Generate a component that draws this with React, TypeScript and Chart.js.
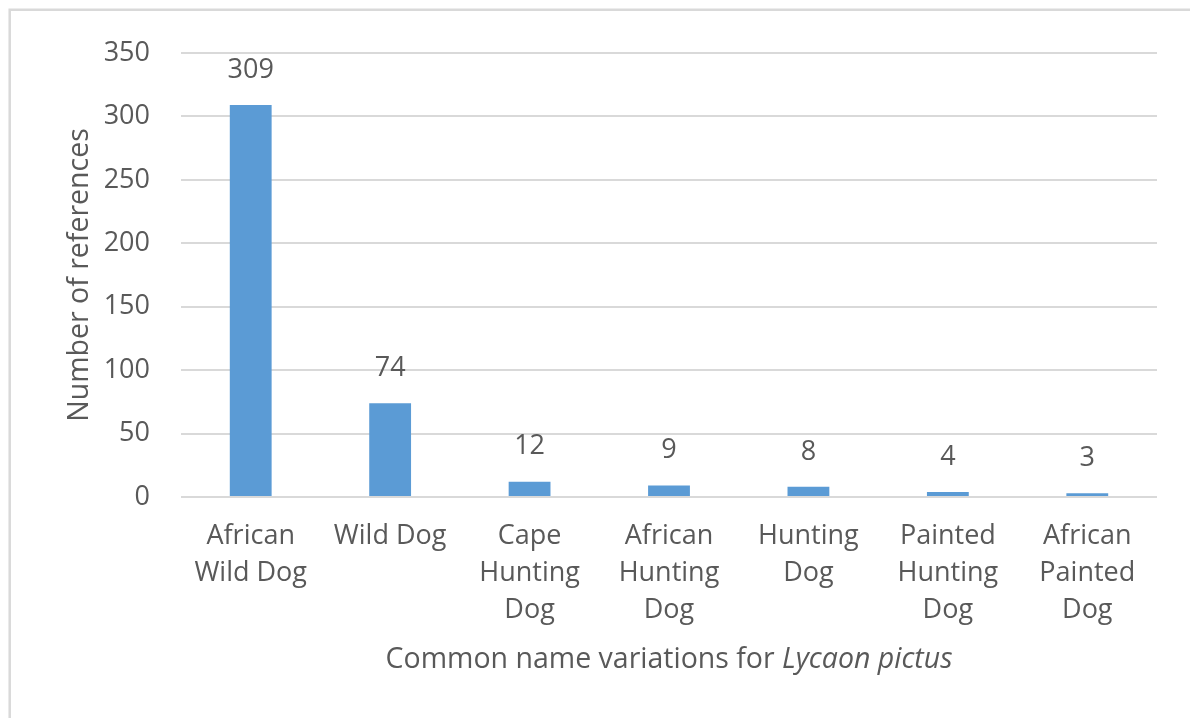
import React, { useEffect, useRef } from "react";
import { Chart, registerables } from "chart.js";

Chart.register(...registerables);

const categories: string[][] = [
  ["African", "Wild Dog"],
  ["Wild Dog"],
  ["Cape", "Hunting", "Dog"],
  ["African", "Hunting", "Dog"],
  ["Hunting", "Dog"],
  ["Painted", "Hunting", "Dog"],
  ["African", "Painted", "Dog"],
];
const referenceCounts: number[] = [309, 74, 12, 9, 8, 4, 3];
const yTicks = { min: 0, max: 350, step: 50 };
const yTitle = "Number of references";
const xTitleNormal = "Common name variations for ";
const xTitleItalic = "Lycaon pictus";

const FONT = "'Open Sans', 'Noto Sans', sans-serif";
const TEXT = "#595959";
const GRID = "#d9d9d9";
const BAR = "#5b9bd5";
const FS = 27;
const TFS = 28.5;

export default function App() {
  const ref = useRef<HTMLCanvasElement | null>(null);
  useEffect(() => {
    document.body.style.margin = "0";
    const canvas = ref.current;
    if (!canvas) return;

    const framePlugin = {
      id: "frame",
      beforeDraw(chart: any) {
        const ctx = chart.ctx;
        ctx.save();
        ctx.fillStyle = "#ffffff";
        ctx.fillRect(0, 0, chart.width, chart.height);
        ctx.strokeStyle = GRID;
        ctx.lineWidth = 2.5;
        ctx.beginPath();
        ctx.moveTo(chart.width + 5, 9.7);
        ctx.lineTo(9.7, 9.7);
        ctx.lineTo(9.7, chart.height + 5);
        ctx.stroke();
        ctx.restore();
      },
    };

    const labelPlugin = {
      id: "valueLabels",
      afterDatasetsDraw(chart: any) {
        const ctx = chart.ctx;
        const meta = chart.getDatasetMeta(0);
        ctx.save();
        ctx.font = `${FS}px ${FONT}`;
        ctx.fillStyle = TEXT;
        ctx.textAlign = "center";
        ctx.textBaseline = "middle";
        meta.data.forEach((bar: any, i: number) => {
          ctx.fillText(String(chart.data.datasets[0].data[i]), bar.x, bar.y - 35);
        });
        ctx.restore();
      },
    };

    const xTitlePlugin = {
      id: "xTitle",
      afterDraw(chart: any) {
        const ctx = chart.ctx;
        const area = chart.chartArea;
        ctx.save();
        ctx.fillStyle = TEXT;
        ctx.textBaseline = "middle";
        ctx.textAlign = "left";
        ctx.font = `${TFS}px ${FONT}`;
        const w1 = ctx.measureText(xTitleNormal).width;
        ctx.font = `italic ${TFS}px ${FONT}`;
        const w2 = ctx.measureText(xTitleItalic).width;
        const cx = (area.left + area.right) / 2;
        const x0 = cx - (w1 + w2) / 2;
        const y = 660;
        ctx.font = `${TFS}px ${FONT}`;
        ctx.fillText(xTitleNormal, x0, y);
        ctx.font = `italic ${TFS}px ${FONT}`;
        ctx.fillText(xTitleItalic, x0 + w1, y);
        ctx.restore();
      },
    };

    const chart = new Chart(canvas, {
      type: "bar",
      data: {
        labels: categories,
        datasets: [
          {
            data: referenceCounts,
            backgroundColor: BAR,
            borderWidth: 0,
            barPercentage: 0.3,
            categoryPercentage: 1,
          },
        ],
      },
      options: {
        responsive: false,
        animation: false,
        layout: { padding: { left: 0, top: 53, right: 33, bottom: 0 } },
        plugins: {
          legend: { display: false },
          tooltip: { enabled: false },
        },
        scales: {
          x: {
            grid: { display: false, drawTicks: false },
            border: { display: false },
            ticks: {
              color: TEXT,
              font: { family: FONT, size: FS, lineHeight: 1.37 },
              padding: 21,
              maxRotation: 0,
              autoSkip: false,
            },
            afterFit(scale: any) {
              scale.height = 221;
            },
          },
          y: {
            min: yTicks.min,
            max: yTicks.max,
            grid: { color: GRID, lineWidth: 2, drawTicks: false },
            border: { display: false },
            ticks: {
              stepSize: yTicks.step,
              color: TEXT,
              font: { family: FONT, size: FS },
              padding: 31,
            },
            title: {
              display: true,
              text: yTitle,
              color: TEXT,
              font: { family: FONT, size: TFS, lineHeight: 1.2 },
              padding: { top: 63, bottom: 0 },
            },
            afterFit(scale: any) {
              scale.width = 181;
            },
          },
        },
      },
      plugins: [framePlugin, labelPlugin, xTitlePlugin],
    });
    return () => chart.destroy();
  }, []);

  return (
    <canvas
      ref={ref}
      width={1190}
      height={718}
      style={{ display: "block", width: 1190, height: 718 }}
    />
  );
}
